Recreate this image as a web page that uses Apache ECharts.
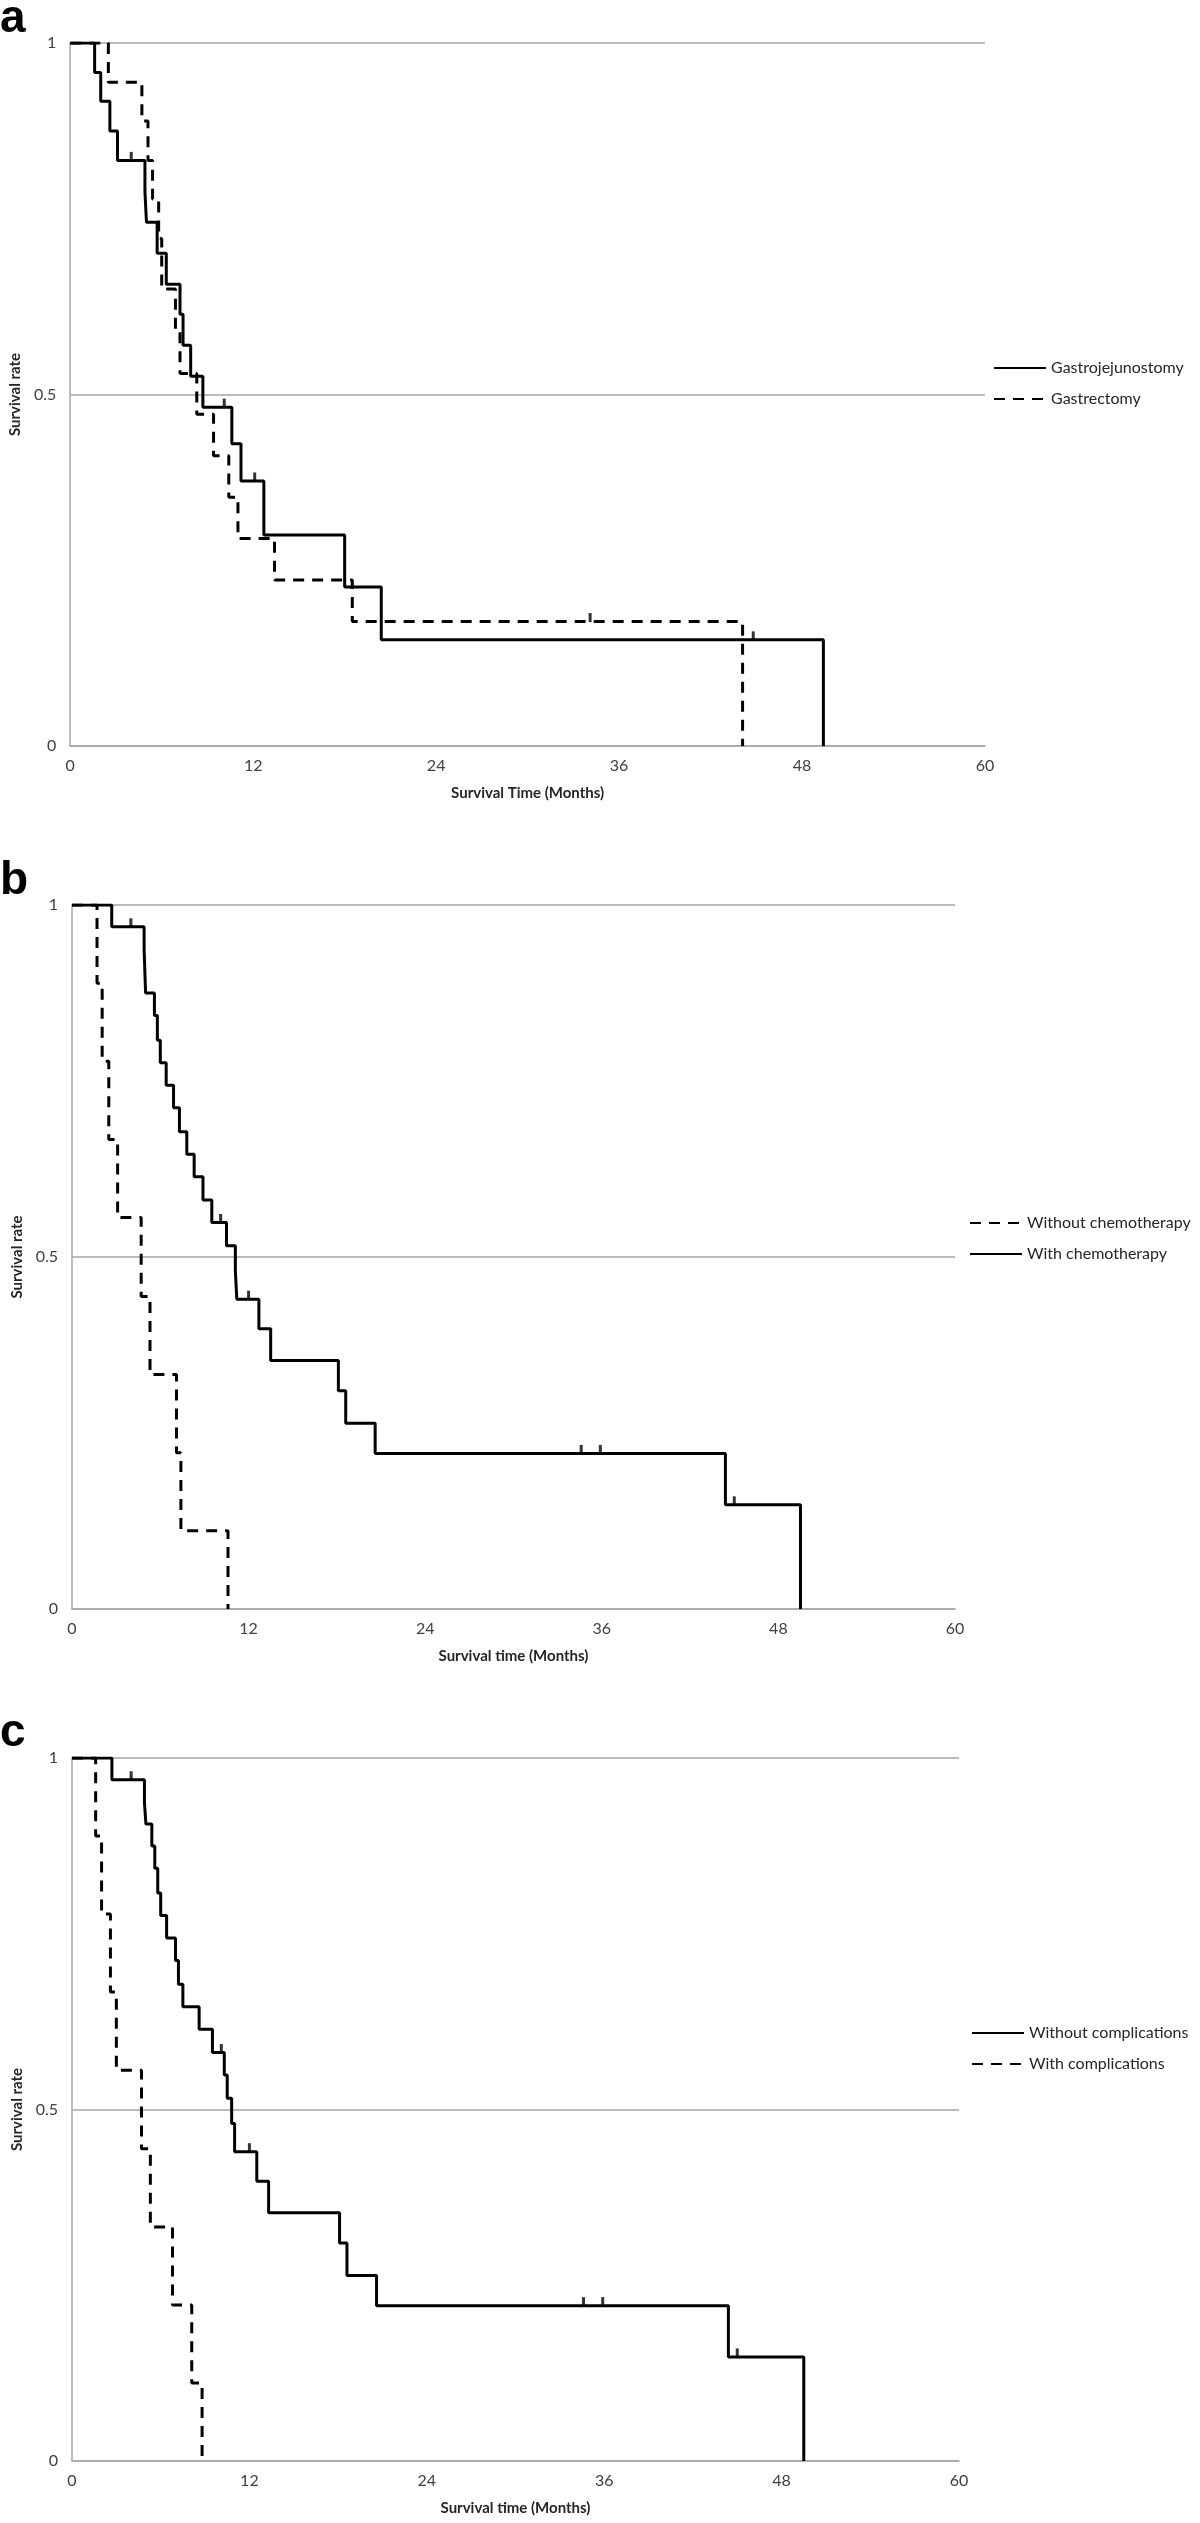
<!DOCTYPE html>
<html>
<head>
<meta charset="utf-8">
<script src="https://cdn.jsdelivr.net/npm/echarts@6/dist/echarts.min.js"></script>
<style>
html,body{margin:0;padding:0;background:#fff;}
#chart{width:1200px;height:2523px;}
</style>
</head>
<body>
<div id="chart"></div>
<script>
// ---------- data (time in months, survival rate) ----------
const xTickValues = [0, 12, 24, 36, 48, 60];
const yTickValues = [0, 0.5, 1];

// Panel a
const aNames = ['Gastrojejunostomy', 'Gastrectomy'];
const aGJ = [[0,1],[1.6,0.958],[2.0,0.917],[2.6,0.875],[3.1,0.833],[4.9,0.789],[5.0,0.745],[5.7,0.701],[6.3,0.657],[7.2,0.614],[7.4,0.570],[7.9,0.526],[8.7,0.482],[10.6,0.43],[11.2,0.377],[12.7,0.30],[18.0,0.226],[20.4,0.151],[49.4,0]];
const aGJCens = [[4.0,0.833],[10.1,0.482],[12.1,0.377],[44.8,0.151]];
const aGC = [[0,1],[2.5,0.944],[4.7,0.889],[5.1,0.833],[5.4,0.778],[5.8,0.722],[6.0,0.65],[6.9,0.59],[7.2,0.53],[8.3,0.472],[9.4,0.413],[10.4,0.354],[11.0,0.295],[13.4,0.236],[18.5,0.177],[44.1,0]];
const aGCCens = [[34.1,0.177]];

// Panel b
const bNames = ['Without chemotherapy', 'With chemotherapy'];
const bNoChemo = [[0,1],[1.7,0.889],[2.05,0.778],[2.5,0.667],[3.1,0.556],[4.7,0.444],[5.3,0.333],[7.1,0.222],[7.4,0.111],[10.6,0]];
const bChemo = [[0,1],[2.7,0.969],[4.9,0.937],[5.0,0.875],[5.6,0.843],[5.8,0.808],[6.0,0.776],[6.4,0.744],[6.9,0.712],[7.3,0.678],[7.8,0.646],[8.3,0.614],[8.9,0.581],[9.5,0.549],[10.5,0.516],[11.1,0.48],[11.2,0.44],[12.7,0.398],[13.5,0.353],[18.1,0.31],[18.6,0.264],[20.6,0.221],[44.4,0.148],[49.5,0]];
const bChemoCens = [[4.0,0.969],[10.1,0.549],[12.0,0.44],[34.6,0.221],[35.9,0.221],[45.0,0.148]];

// Panel c
const cNames = ['Without complications', 'With complications'];
const cNoComp = [[0,1],[2.7,0.969],[4.9,0.937],[5.0,0.906],[5.4,0.875],[5.6,0.843],[5.8,0.808],[6.0,0.776],[6.4,0.744],[7.0,0.712],[7.2,0.678],[7.5,0.646],[8.6,0.614],[9.5,0.581],[10.3,0.549],[10.5,0.516],[10.8,0.48],[11.0,0.44],[12.5,0.398],[13.3,0.353],[18.1,0.31],[18.6,0.264],[20.6,0.221],[44.4,0.148],[49.5,0]];
const cNoCompCens = [[4.0,0.969],[10.1,0.581],[12.0,0.44],[34.6,0.221],[35.9,0.221],[45.0,0.148]];
const cComp = [[0,1],[1.6,0.889],[2.0,0.778],[2.6,0.667],[3.0,0.556],[4.7,0.444],[5.3,0.333],[6.8,0.222],[8.1,0.111],[8.8,0]];

// ---------- chart ----------
const FONT = 'Lato, "Open Sans", sans-serif';
const GRAY = '#a6a6a6';
const panels = [
  {grid:{left:70, top:43, width:915, height:703}, xName:'Survival Time (Months)', letter:'a', letterY:36,
   legend:{left:988, top:355, names:aNames}},
  {grid:{left:72, top:905, width:883, height:704}, xName:'Survival time (Months)', letter:'b', letterY:898,
   legend:{left:964, top:1210, names:bNames}},
  {grid:{left:72, top:1758, width:887, height:703}, xName:'Survival time (Months)', letter:'c', letterY:1750,
   legend:{left:966, top:2020, names:cNames}}
];

function solid(name, data, gi){
  return {name, type:'line', step:'end', data, xAxisIndex:gi, yAxisIndex:gi, symbol:'none',
    lineStyle:{color:'#000', width:3, type:'solid'}, itemStyle:{color:'#000'}, z:3, silent:true};
}
function dashed(name, data, gi){
  return {name, type:'line', step:'end', data, xAxisIndex:gi, yAxisIndex:gi, symbol:'none',
    lineStyle:{color:'#000', width:3, type:[11,8]}, itemStyle:{color:'#000'}, z:3, silent:true};
}
function cens(data, gi){
  return {type:'scatter', data, xAxisIndex:gi, yAxisIndex:gi, symbol:'rect', symbolSize:[3,9],
    symbolOffset:[0,-4], itemStyle:{color:'#000'}, z:4, silent:true};
}

const option = {
  backgroundColor:'#fff',
  animation:false,
  textStyle:{fontFamily:FONT},
  grid: panels.map(p => p.grid),
  xAxis: panels.map((p,i) => ({
    type:'value', gridIndex:i, min:0, max:60, interval:12,
    name:p.xName, nameLocation:'middle', nameGap:40,
    nameTextStyle:{fontFamily:FONT, fontWeight:'bold', fontSize:15, color:'#262626'},
    axisLine:{show:true, lineStyle:{color:GRAY, width:1.5}},
    axisTick:{show:false},
    axisLabel:{fontFamily:FONT, fontSize:16, color:'#404040', margin:12,
      formatter: v => xTickValues.indexOf(v) >= 0 ? String(v) : ''},
    splitLine:{show:false}
  })),
  yAxis: panels.map((p,i) => ({
    type:'value', gridIndex:i, min:0, max:1, interval:0.5,
    name:'Survival rate', nameLocation:'middle', nameGap:44, nameRotate:90,
    nameTextStyle:{fontFamily:FONT, fontWeight:'bold', fontSize:15, color:'#262626'},
    axisLine:{show:true, lineStyle:{color:GRAY, width:1.5}},
    axisTick:{show:false},
    axisLabel:{fontFamily:FONT, fontSize:16, color:'#404040', margin:14,
      formatter: v => yTickValues.indexOf(v) >= 0 ? String(v) : ''},
    splitLine:{show:true, lineStyle:{color:GRAY, width:1.5}}
  })),
  legend: panels.map(p => ({
    orient:'vertical', left:p.legend.left, top:p.legend.top, data:p.legend.names,
    itemWidth:52, itemHeight:14, itemGap:15, selectedMode:false,
    itemStyle:{color:'rgba(0,0,0,0)', borderWidth:0, opacity:0},
    textStyle:{fontFamily:FONT, fontSize:16, color:'#262626'}
  })),
  graphic: panels.map(p => ({
    type:'text', left:0, top:p.letterY - 40,
    style:{text:p.letter, font:'bold 46px "Liberation Sans", Arial, sans-serif', fill:'#000'}
  })),
  series: [
    solid(aNames[0], aGJ, 0), dashed(aNames[1], aGC, 0), cens(aGJCens, 0), cens(aGCCens, 0),
    dashed(bNames[0], bNoChemo, 1), solid(bNames[1], bChemo, 1), cens(bChemoCens, 1),
    solid(cNames[0], cNoComp, 2), dashed(cNames[1], cComp, 2), cens(cNoCompCens, 2)
  ]
};

const chart = echarts.init(document.getElementById('chart'), null, {renderer:'canvas'});
chart.setOption(option);
</script>
</body>
</html>
